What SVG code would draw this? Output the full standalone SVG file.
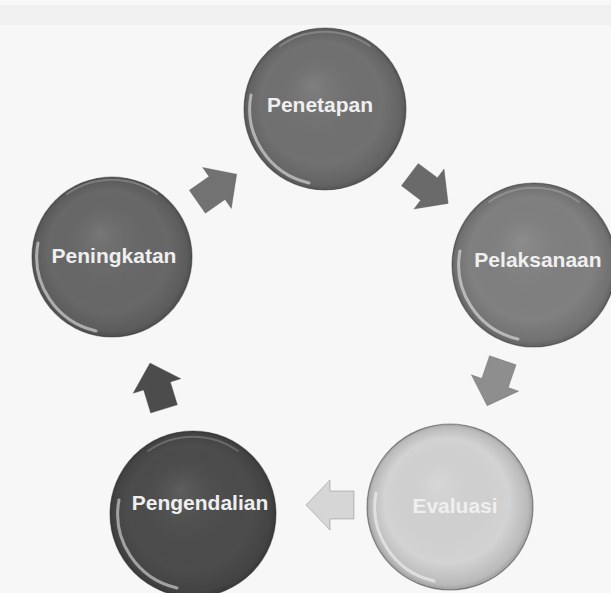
<svg xmlns="http://www.w3.org/2000/svg" xmlns:xlink="http://www.w3.org/1999/xlink" width="611" height="593" viewBox="0 0 611 593">
<style>
.lbl{font-family:"Liberation Sans",Arial,sans-serif;font-weight:bold;font-size:21px;text-anchor:middle;fill:#efefef}
.rim{fill:none;stroke:#2e2e2e;stroke-width:1.2;stroke-opacity:0.45}
.shade{fill:url(#shade)}
.arrow{stroke:#555;stroke-width:0.8;stroke-opacity:0.4}
</style>
<defs>
<radialGradient id="shade" cx="0.5" cy="0.5" r="0.5" fx="0.42" fy="0.35">
<stop offset="0" stop-color="#ffffff" stop-opacity="0.1"/>
<stop offset="0.75" stop-color="#000000" stop-opacity="0"/>
<stop offset="0.95" stop-color="#000000" stop-opacity="0.12"/>
<stop offset="1" stop-color="#000000" stop-opacity="0.25"/>
</radialGradient>
<path id="gloss" d="M -74 -14 A 76 76 0 0 0 -16 74" fill="none" stroke="#ffffff" stroke-width="3" stroke-linecap="round" stroke-opacity="0.5"/>
<path id="tophl" d="M -45 -63 A 78 78 0 0 1 45 -63" fill="none" stroke="#ffffff" stroke-width="2" stroke-linecap="round" stroke-opacity="0.2"/>
<path id="arr" d="M-24,-14 H0 V-25 L24,0 L0,25 V14 H-24 Z"/>
</defs>
<rect width="611" height="593" fill="#f7f7f7"/>
<rect x="0" y="5" width="611" height="20" fill="#d8d8d8" opacity="0.2"/>

<g id="connectors">
<use xlink:href="#arr" class="arrow" fill="#727272" transform="translate(217,188) rotate(-35)"/>
<use xlink:href="#arr" class="arrow" fill="#6a6a6a" transform="translate(429,189) rotate(37)"/>
<use xlink:href="#arr" class="arrow" fill="#8e8e8e" transform="translate(495,383) rotate(109)"/>
<use xlink:href="#arr" class="arrow" fill="#d6d6d6" transform="translate(330,505) rotate(180)"/>
<use xlink:href="#arr" class="arrow" fill="#4c4c4c" transform="translate(157,386) rotate(-107)"/>
</g>

<g id="penetapan">
<circle cx="325" cy="109" r="81" fill="#717171"/>
<circle cx="325" cy="109" r="81" class="shade"/>
<use xlink:href="#gloss" transform="translate(325,109)"/>
<use xlink:href="#tophl" transform="translate(325,109)"/>
<circle cx="325" cy="109" r="81" class="rim"/>
<text class="lbl" x="320" y="112">Penetapan</text>
</g>

<g id="pelaksanaan">
<circle cx="534" cy="265" r="82" fill="#808080"/>
<circle cx="534" cy="265" r="82" class="shade"/>
<use xlink:href="#gloss" transform="translate(534,265)"/>
<use xlink:href="#tophl" transform="translate(534,265)"/>
<circle cx="534" cy="265" r="82" class="rim"/>
<text class="lbl" x="538" y="267">Pelaksanaan</text>
</g>

<g id="evaluasi">
<circle cx="450" cy="507" r="83" fill="#d3d3d3"/>
<circle cx="450" cy="507" r="83" class="shade"/>
<use xlink:href="#gloss" transform="translate(450,507)"/>
<circle cx="450" cy="507" r="83" class="rim" stroke-opacity="0.2"/>
<text class="lbl" x="455" y="513" fill="#f7f7f7">Evaluasi</text>
</g>

<g id="pengendalian">
<circle cx="193" cy="514" r="83" fill="#4c4c4c"/>
<circle cx="193" cy="514" r="83" class="shade"/>
<use xlink:href="#gloss" transform="translate(193,514)"/>
<use xlink:href="#tophl" transform="translate(193,514)"/>
<circle cx="193" cy="514" r="83" class="rim"/>
<text class="lbl" x="200" y="510">Pengendalian</text>
</g>

<g id="peningkatan">
<circle cx="112" cy="257" r="80" fill="#686868"/>
<circle cx="112" cy="257" r="80" class="shade"/>
<use xlink:href="#gloss" transform="translate(112,257)"/>
<use xlink:href="#tophl" transform="translate(112,257)"/>
<circle cx="112" cy="257" r="80" class="rim"/>
<text class="lbl" x="114" y="263">Peningkatan</text>
</g>
</svg>
